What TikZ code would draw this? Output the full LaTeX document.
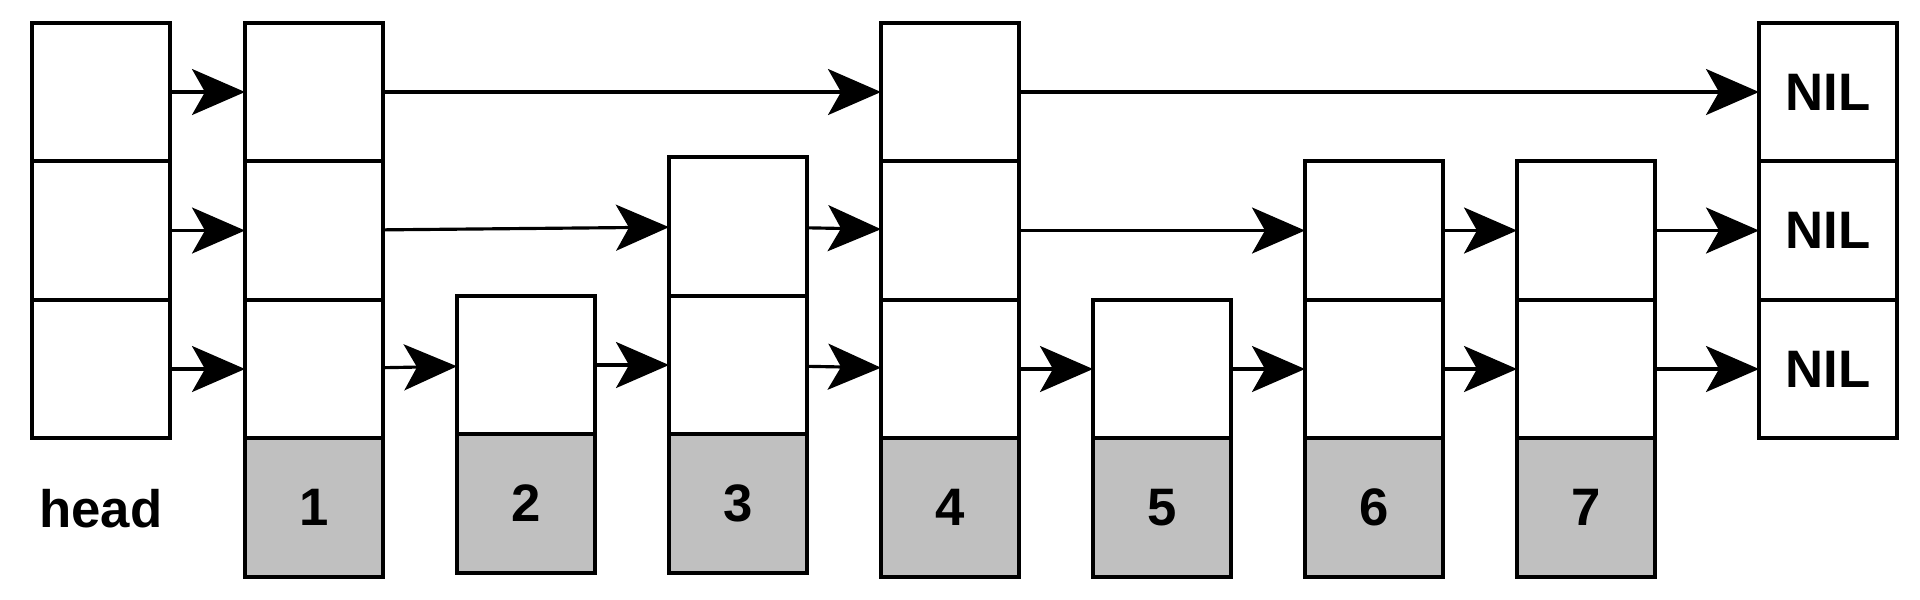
\documentclass[tikz,border=0pt]{standalone}
\usepackage{fontspec}
\setmainfont{Liberation Sans}
\usepackage{xcolor}
\usepackage{tikz}
\usetikzlibrary{arrows.meta}
\definecolor{keygray}{RGB}{192,192,192}
\tikzset{
cell/.style={draw,line width=1.15pt,minimum width=1.38cm,minimum height=1.385cm,inner sep=0pt,outer sep=0pt,font=\bfseries\fontsize{15}{18}\selectfont},
key/.style={cell,fill=keygray},
link/.style={line width=0.9pt,-{Stealth[length=5.3mm,width=4.6mm,inset=1.3mm]}}
}
\begin{document}
\begin{tikzpicture}
\useasboundingbox (0,0) rectangle (19.2,5.99);
\foreach \l in {1,2,3} {
\node[cell] (h-\l) at (1.01,0.915+1.385*\l) {};
\node[cell] (nil-\l) at (18.28,0.915+1.385*\l) {NIL};
}
\node[anchor=base,font=\bfseries\fontsize{15}{18}\selectfont] (head) at (1.01,0.72) {head};
\foreach \i/\lvl/\dy in {1/3/0,2/1/0.04,3/2/0.04,4/3/0,5/1/0,6/2/0,7/2/0} {
\node[key] (k\i) at (1.02+2.12*\i,0.915+\dy) {\i};
\foreach \l in {1,...,\lvl}
\node[cell] (n\i-\l) at (1.02+2.12*\i,0.915+\dy+1.385*\l) {};
}
\draw[link] (h-1) -- (n1-1);
\draw[link] (n1-1) -- (n2-1);
\draw[link] (n2-1) -- (n3-1);
\draw[link] (n3-1) -- (n4-1);
\draw[link] (n4-1) -- (n5-1);
\draw[link] (n5-1) -- (n6-1);
\draw[link] (n6-1) -- (n7-1);
\draw[link] (n7-1) -- (nil-1);
\draw[link] (h-2) -- (n1-2);
\draw[link] (n1-2) -- (n3-2);
\draw[link] (n3-2) -- (n4-2);
\draw[link] (n4-2) -- (n6-2);
\draw[link] (n6-2) -- (n7-2);
\draw[link] (n7-2) -- (nil-2);
\draw[link] (h-3) -- (n1-3);
\draw[link] (n1-3) -- (n4-3);
\draw[link] (n4-3) -- (nil-3);
\end{tikzpicture}
\end{document}
